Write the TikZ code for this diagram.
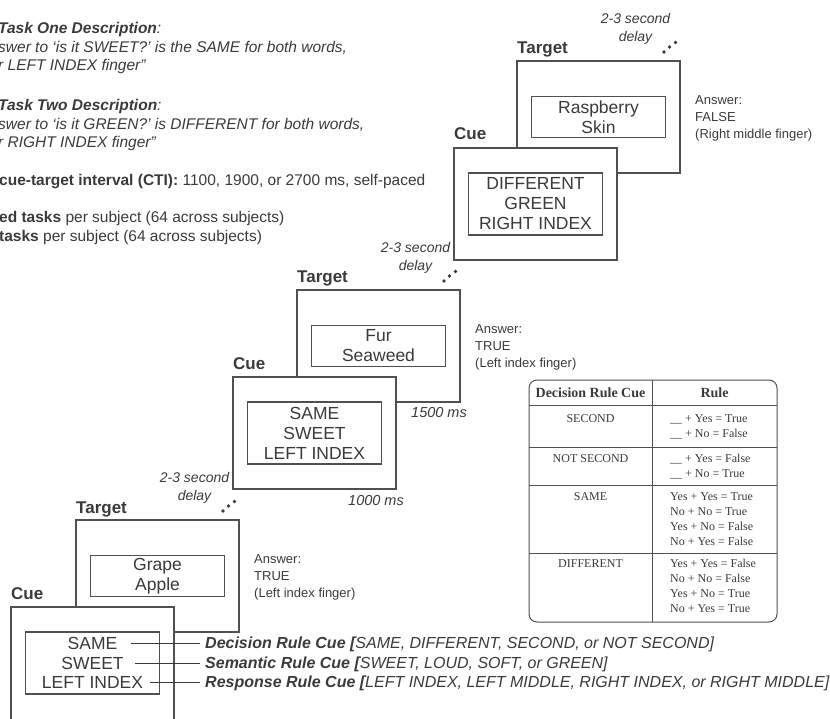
\documentclass[tikz,border=0pt]{standalone}
\usepackage{fontspec}
\setmainfont{Liberation Sans}
\newfontfamily\tabfont{Liberation Serif}
\usetikzlibrary{positioning,calc}
\definecolor{ink}{HTML}{3A3A3A}
\definecolor{rim}{HTML}{505050}
\tikzstyle{screen} = [rectangle, draw=rim, line width=1.2pt, fill=white,
    minimum width=163pt, minimum height=112pt, inner sep=0pt, outer sep=0pt]
\tikzstyle{wordbox} = [rectangle, draw=rim, line width=1.5pt, fill=white, minimum width=134pt,
    inner sep=0pt, outer sep=0pt, align=center, text=ink, font=\fontsize{17.5}{20}\selectfont]
\tikzstyle{phase} = [text=ink, font=\bfseries\fontsize{17}{20}\selectfont, inner sep=0pt, anchor=base west]
\tikzstyle{answer} = [text=ink, font=\fontsize{13}{17}\selectfont, align=left, inner sep=0pt]
\tikzstyle{delay} = [text=ink, font=\itshape\fontsize{14}{18}\selectfont, align=center, inner sep=0pt, anchor=north]
\tikzstyle{timing} = [text=ink, font=\itshape\fontsize{14.5}{18}\selectfont, inner sep=0pt]
\tikzstyle{header} = [text=ink, font=\fontsize{15.5}{18.5}\selectfont, align=left, inner sep=0pt, anchor=north west]
\tikzstyle{cueline} = [text=ink, font=\fontsize{17.5}{20}\selectfont, inner sep=0pt, text height=12.5pt, text depth=0pt]
\tikzstyle{legend} = [text=ink, font=\itshape\fontsize{16}{20}\selectfont, inner xsep=5pt, inner ysep=0pt,
    text height=11.5pt, text depth=0pt, anchor=west]
\tikzstyle{tabhead} = [text=ink, font=\tabfont\bfseries\fontsize{14}{16}\selectfont, inner sep=0pt]
\tikzstyle{tabcell} = [text=ink, font=\tabfont\fontsize{12}{15}\selectfont, inner sep=0pt, align=left]

\begin{document}
\begin{tikzpicture}[x=1pt,y=-1pt]
  \useasboundingbox (0,0) rectangle (830,719);
  \clip (0,0) rectangle (830,719);

  % task descriptions
  \node[header] (taskone) at (-2,22.5) {\textbf{\textit{Task One Description}}\textit{:}\\
    \textit{swer to ‘is it SWEET?’ is the SAME for both words,}\\\textit{r LEFT INDEX finger”}};
  \node[header] (tasktwo) at (-2,99.5) {\textbf{\textit{Task Two Description}}\textit{:}\\
    \textit{swer to ‘is it GREEN?’ is DIFFERENT for both words,}\\\textit{r RIGHT INDEX finger”}};
  \node[header] (cti) at (-1,174.5) {\textbf{cue-target interval (CTI):} 1100, 1900, or 2700 ms, self-paced};
  \node[header] (counts) at (-1,211.5) {\textbf{ed tasks} per subject (64 across subjects)\\
    \textbf{tasks} per subject (64 across subjects)};

  % first trial
  \node[screen]                     (tgtA)  at (157.5,576) {};
  \node[wordbox,minimum height=41pt] (wordA) at (tgtA) {Grape\\Apple};
  \node[screen,minimum height=116pt] (cueA) at (92.5,665) {};
  \node[wordbox,minimum height=62pt] (ruleA) at ($(cueA.north)+(0,56)$) {};
  \node[cueline] (sameA)  at ($(ruleA.center)+(0,-20)$) {SAME};
  \node[cueline] (sweetA) at (ruleA) {SWEET};
  \node[cueline] (indexA) at ($(ruleA.center)+(0,19)$) {LEFT INDEX};

  % second trial
  \node[screen]                     (tgtB)  at (378.5,346) {};
  \node[wordbox,minimum height=41pt] (wordB) at (tgtB) {Fur\\Seaweed};
  \node[screen]                     (cueB)  at (314.5,433) {};
  \node[wordbox,minimum height=62pt] (ruleB) at (cueB) {SAME\\SWEET\\LEFT INDEX};

  % third trial
  \node[screen]                     (tgtC)  at (598.5,117) {};
  \node[wordbox,minimum height=41pt] (wordC) at (tgtC) {Raspberry\\Skin};
  \node[screen]                     (cueC)  at (535.5,204) {};
  \node[wordbox,minimum height=62pt] (ruleC) at (cueC) {DIFFERENT\\GREEN\\RIGHT INDEX};

  % labels
  \node[phase] (tgtAlab) at ($(tgtA.north west)+(0,-7)$) {Target};
  \node[phase] (cueAlab) at ($(cueA.north west)+(0,-8)$) {Cue};
  \node[phase] (tgtBlab) at ($(tgtB.north west)+(0,-7)$) {Target};
  \node[phase] (cueBlab) at ($(cueB.north west)+(0,-8)$) {Cue};
  \node[phase] (tgtClab) at ($(tgtC.north west)+(0,-7)$) {Target};
  \node[phase] (cueClab) at ($(cueC.north west)+(0,-8)$) {Cue};

  \node[answer,below right=34.5pt and 15pt of tgtA.north east] (ansA) {Answer:\\TRUE\\(Left index finger)};
  \node[answer,below right=34.5pt and 15pt of tgtB.north east] (ansB) {Answer:\\TRUE\\(Left index finger)};
  \node[answer,below right=34.5pt and 15pt of tgtC.north east] (ansC) {Answer:\\FALSE\\(Right middle finger)};

  \node[delay] (delA) at ($(tgtA.north west)+(118.5,-48)$) {2-3 second\\delay};
  \node[delay] (delB) at ($(tgtB.north west)+(118.5,-48)$) {2-3 second\\delay};
  \node[delay] (delC) at ($(tgtC.north west)+(118.5,-48)$) {2-3 second\\delay};
  \foreach \g in {A,B,C}
    \foreach \dx/\dy in {147/-9,152.5/-14,158.5/-18.5}
      \fill[ink] ($(tgt\g.north west)+(\dx,\dy)$) circle[radius=1.8pt];

  \node[timing] (msB1) at ($(tgtB.south east)+(-21,11)$) {1500 ms};
  \node[timing] (msB2) at ($(cueB.south east)+(-20,12)$) {1000 ms};

  % cue legend
  \node[legend] (decA) at (200,643) {\textbf{Decision Rule Cue [}SAME, DIFFERENT, SECOND, or NOT SECOND]};
  \node[legend] (semA) at (200,663) {\textbf{Semantic Rule Cue [}SWEET, LOUD, SOFT, or GREEN]};
  \node[legend] (resA) at (200,682) {\textbf{Response Rule Cue [}LEFT INDEX, LEFT MIDDLE, RIGHT INDEX, or RIGHT MIDDLE]};
  \draw[ink,line width=1pt,shorten <=13.5pt] (sameA.east) -- (sameA.east -| decA.west);
  \draw[ink,line width=1pt,shorten <=11.5pt] (sweetA.east) -- (sweetA.east -| semA.west);
  \draw[ink,line width=1pt,shorten <=7pt] (indexA.east) -- (indexA.east -| resA.west);

  % rule table
  \draw[rim,line width=1pt,rounded corners=8pt] (529,380) rectangle (777,622);
  \draw[rim,line width=1pt] (652,380) -- (652,622)
    (529,405) -- (777,405) (529,447) -- (777,447) (529,485) -- (777,485) (529,553) -- (777,553);
  \node[tabhead] (hcue)  at (590.5,393) {Decision Rule Cue};
  \node[tabhead] (hrule) at (714.5,393) {Rule};
  \node[tabcell,anchor=north] (csec)  at (590.5,414) {SECOND};
  \node[tabcell,anchor=north] (cnot)  at (590.5,454) {NOT SECOND};
  \node[tabcell,anchor=north] (csame) at (590.5,492) {SAME};
  \node[tabcell,anchor=north] (cdiff) at (590.5,559) {DIFFERENT};
  \node[tabcell,anchor=north west] (rsec)  at (670,414) {\_\_ + Yes = True\\\_\_ + No = False};
  \node[tabcell,anchor=north west] (rnot)  at (670,454) {\_\_ + Yes = False\\\_\_ + No = True};
  \node[tabcell,anchor=north west] (rsame) at (670,492) {Yes + Yes = True\\No + No = True\\Yes + No = False\\No + Yes = False};
  \node[tabcell,anchor=north west] (rdiff) at (670,559) {Yes + Yes = False\\No + No = False\\Yes + No = True\\No + Yes = True};
\end{tikzpicture}
\end{document}
